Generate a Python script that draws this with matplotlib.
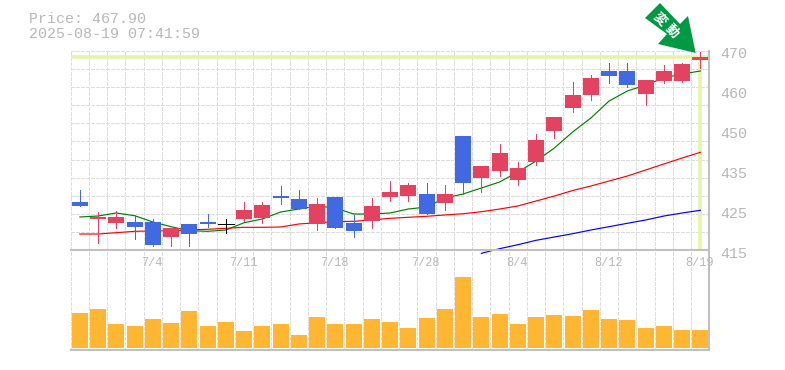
import matplotlib
matplotlib.use("Agg")
import matplotlib.pyplot as plt
from matplotlib.patches import Polygon

W, H = 785, 370

# candles as pixel readings converted to price
PX_TOP, PX_BOT = 51, 250
P_BOT = 415.0
P_PER_PX = 0.2745


def p(y):
    return round(P_BOT + (PX_BOT - y) * P_PER_PX, 2)


dates = ["", "", "", "", "7/4", "", "", "", "", "7/11", "", "", "", "", "7/18", "", "", "", "", "7/28",
         "", "", "", "", "8/4", "", "", "", "", "8/12", "", "", "", "", "8/19"]

opens = [p(v) for v in [202, 219, 223, 222, 222, 237, 224, 222, 224, 219, 218, 196, 199, 224, 197, 223, 221, 197,
                        196, 194, 203, 136, 178, 171, 180, 162, 131, 108, 95, 71, 71, 94, 81, 81, 60]]
closes = [p(v) for v in [206, 217, 217, 227, 245, 228, 234, 224, 224, 210, 205, 198, 209, 204, 228, 231, 206, 192,
                         185, 214, 194, 183, 166, 153, 168, 140, 117, 95, 78, 76, 85, 80, 71, 64, 57]]
highs = [p(v) for v in [190, 212, 211, 215, 219, 228, 224, 214, 219, 202, 202, 186, 190, 198, 197, 215, 198, 181,
                        183, 183, 185, 136, 166, 144, 162, 134, 117, 82, 75, 63, 63, 80, 65, 63, 52]]
lows = [p(v) for v in [206, 243, 228, 239, 246, 246, 246, 227, 233, 221, 223, 204, 209, 230, 228, 237, 228, 201,
                       201, 214, 210, 194, 192, 176, 185, 165, 138, 112, 100, 83, 87, 105, 83, 82, 68]]

ma_short = [p(v) for v in [217, 216, 213, 215.7, 222, 226.7, 230.7, 231.3, 230, 222.7, 219, 212, 209, 206, 208, 214,
                           214, 213, 209, 207, 198, 194, 188, 182, 172, 161, 148, 132, 118, 101, 91, 85, 78, 74, 71]]
ma_mid = [p(v) for v in [234, 234, 232.7, 231.3, 231, 230.7, 230, 229.3, 228.3, 227.3, 227.3, 227, 224, 222.7, 221.7,
                         221.3, 220, 218.3, 217.3, 216.3, 215, 213.7, 211.7, 209, 206, 201, 196, 190.5, 186, 181, 176,
                         170, 164, 158, 152.3]]
ma_long_start = 22
ma_long = [p(v) for v in [253.3, 248.7, 244.7, 240.3, 237, 233.7, 230, 226.7, 223.3, 220, 216, 213, 210.3]]

volumes = [35, 39, 24, 22, 29, 25, 37, 22, 26, 17, 22, 24, 13, 31, 24, 24, 29, 26,
           20, 30, 39, 71, 31, 34, 24, 31, 33, 32, 38, 29, 28, 20, 22, 18, 18]

last_price = 467.90
price_ticks = [p(v) for v in [254, 214, 174, 134, 94, 54]]
price_labels = ["415", "425", "435", "450", "460", "470"]

UP = "#e34260"
DOWN = "#4169e1"
FLAT = "#000000"
GRID = "#dddddd"
EDGE = "#c0c0c0"
TEXT = "#b8b8b8"
HILITE = "#e4f5a5"
MONO = "Liberation Mono"
DASH = (0, (3, 2))
THIN = 0.6

fig = plt.figure(figsize=(W / 100, H / 100), dpi=100)
left, right = 70.7, 709.5


def pane(top, bot):
    return fig.add_axes([left / W, 1 - bot / H, (right - left) / W, (bot - top) / H])


ax = pane(PX_TOP, PX_BOT)
vol = pane(PX_BOT, 350)
ax.set_zorder(2)
ax.patch.set_visible(False)
n = len(opens)

for a in (ax, vol):
    a.set_xlim(-0.5, n - 0.5)
    a.set_xticks([i - 0.5 for i in range(n)])
    a.tick_params(length=0, labelbottom=False, labelleft=False)
    a.grid(axis="x", color=GRID, linestyle=DASH, linewidth=0.72, antialiased=False)
    a.set_axisbelow(True)
    for s in ("top", "left"):
        a.spines[s].set_visible(False)
    for s in ("right", "bottom"):
        a.spines[s].set_color(EDGE)
        a.spines[s].set_linewidth(1.5)

ax.set_ylim(P_BOT, p(PX_TOP))
ax.set_yticks([p(PX_TOP + i * (PX_BOT - PX_TOP) / 11) for i in range(11)])
ax.grid(axis="y", color=GRID, linestyle=DASH, linewidth=0.72, antialiased=False)

# latest price highlight
ax.axhline(last_price, color=HILITE, linewidth=2.6, zorder=1)
ax.plot([n - 1, n - 1], [P_BOT + 0.3, last_price], color=HILITE, linewidth=2.6, zorder=1, solid_capstyle="butt")

ax.plot(range(n), ma_short, color="#008000", linewidth=0.85, zorder=2)
ax.plot(range(n), ma_mid, color="#ff0000", linewidth=0.85, zorder=2)
ax.plot(range(ma_long_start, n), ma_long, color="#0000ff", linewidth=0.85, zorder=2, clip_on=False)

for i in range(n):
    if closes[i] > opens[i]:
        c = UP
    elif closes[i] < opens[i]:
        c = DOWN
    else:
        c = FLAT
    ax.plot([i, i], [lows[i], highs[i]], color=c, linewidth=THIN, zorder=3, solid_capstyle="butt", antialiased=False)
    body = abs(closes[i] - opens[i])
    ax.bar(i, body, bottom=min(opens[i], closes[i]), width=16 / 18.25, color=c, zorder=3, antialiased=False)
    if c == FLAT:
        ax.plot([i - 0.44, i + 0.44], [opens[i], opens[i]], color=c, linewidth=THIN, zorder=3, antialiased=False)

vol.bar(range(n), volumes, width=16 / 18.25, color="#ffb733", zorder=3, antialiased=False)
vol.set_ylim(-2, 98)
for i, d in enumerate(dates):
    if d:
        fig.text(vol.transData.transform((i, 0))[0] / W - 1 / W, 1 - 263 / H, d, ha="center", va="center",
                 family=MONO, fontsize=8.6, color=TEXT, zorder=4)

for v, lab in zip(price_ticks, price_labels):
    y = PX_BOT - (v - P_BOT) / P_PER_PX
    fig.text(720 / W, 1 - y / H, lab, family=MONO, fontsize=10.8, color=TEXT, ha="left", va="center")

fig.text(29 / W, 1 - 19 / H, f"Price: {last_price:.2f}", family=MONO, fontsize=10.8, color=TEXT, va="center")
fig.text(29 / W, 1 - 34 / H, "2025-08-19 07:41:59", family=MONO, fontsize=10.8, color=TEXT, va="center")

# arrow badge, pixel coordinates of the figure
arrow_px = [(660, 3), (645, 18), (667, 34), (658, 44), (695.7, 53), (688, 16), (680, 24)]
fig.add_artist(Polygon([(x / W, 1 - y / H) for x, y in arrow_px], closed=True,
                       transform=fig.transFigure, facecolor="#009944", edgecolor="none", zorder=5))
for (x, y), ch in zip([(660, 19), (672, 31)], "変動"):
    fig.text(x / W, 1 - y / H, ch, family=["Noto Sans CJK JP", "DejaVu Sans"], fontsize=9.5, fontweight="bold",
             color="white", rotation=-45, ha="center", va="center", zorder=6)

fig.savefig("out.png", dpi=100)
